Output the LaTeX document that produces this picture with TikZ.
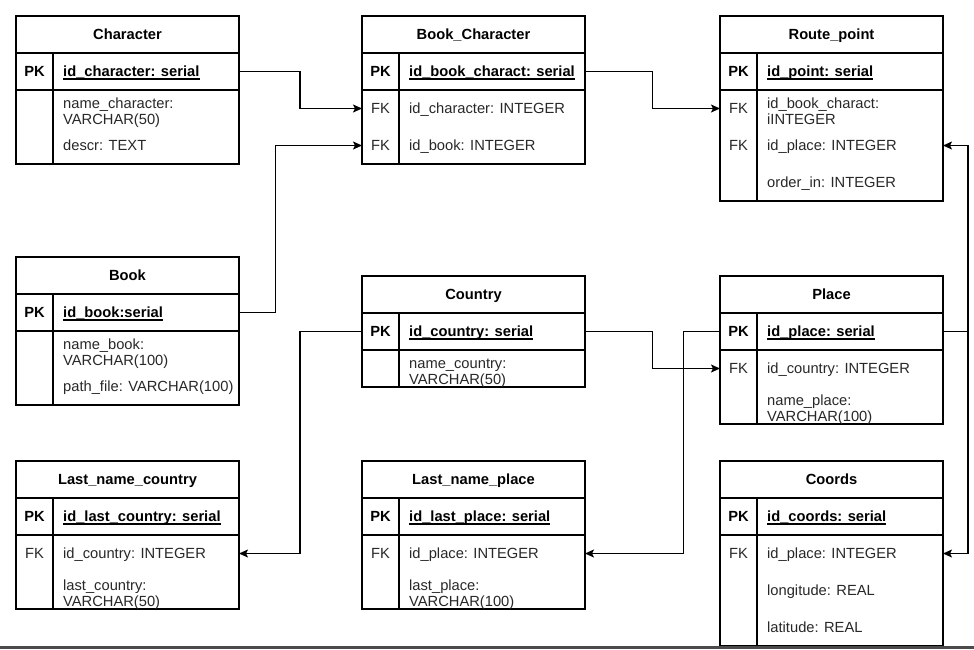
\documentclass[tikz,border=0pt]{standalone}
\usepackage{fontspec}
\setmainfont{Liberation Sans}
\usetikzlibrary{arrows.meta,calc}
\definecolor{txt}{RGB}{40,40,40}
\definecolor{barcol}{RGB}{75,75,75}
\tikzset{
  tablebox/.style={draw=black, line width=1.6pt, inner sep=0pt, outer sep=0pt, minimum width=223pt, fill=white},
  rule/.style={draw=black, line width=1.6pt},
  titletext/.style={inner sep=0pt, anchor=base, font=\fontsize{14.7}{16}\selectfont\bfseries, text=black},
  keytext/.style={inner sep=0pt, anchor=base, font=\fontsize{14.7}{16}\selectfont, text=txt},
  pkkey/.style={inner sep=0pt, anchor=base, font=\fontsize{14.7}{16}\selectfont\bfseries, text=black},
  fieldtext/.style={inner sep=0pt, anchor=base west, font=\fontsize{14.7}{16}\selectfont, text=txt},
  pktext/.style={inner sep=0pt, anchor=base west, font=\fontsize{14.7}{16}\selectfont\bfseries, text=black},
  uline/.style={draw=black, line width=1.1pt},
  conn/.style={draw=black, line width=1.5pt, -{Stealth[length=9pt,width=8pt,inset=2pt]}},
}
% #1 name, #2 left, #3 top, #4 height, #5 title
\newcommand\ertable[5]{%
  \node[tablebox, minimum height=#4pt, anchor=north west] (#1) at (#2,#3) {};
  \node[titletext] (#1-title) at ($(#1.north)+(0,23.5)$) {#5};
  \draw[rule] ($(#1.north west)+(0,37)$) -- ($(#1.north east)+(0,37)$);
  \draw[rule] ($(#1.north west)+(0,74)$) -- ($(#1.north east)+(0,74)$);
  \draw[rule] ($(#1.north west)+(37,37)$) -- ($(#1.south west)+(37,0)$);
}
% #1 table, #2 text
\newcommand\pkrow[2]{%
  \node[pkkey] (#1-pkk) at ($(#1.north west)+(18.5,60.5)$) {PK};
  \node[pktext] (#1-pk) at ($(#1.north west)+(47,60.5)$) {#2};
  \draw[uline] ($(#1-pk.base west)+(0,2.5)$) -- ($(#1-pk.base east)+(0,2.5)$);
}
% #1 table, #2 row name, #3 baseline offset, #4 key, #5 text
\newcommand\frow[5]{%
  \node[keytext] (#1-#2k) at ($(#1.north west)+(18.5,#3)$) {#4};
  \node[fieldtext] (#1-#2) at ($(#1.north west)+(47,#3)$) {#5};
}
% #1 table, #2 row name, #3 row centre offset, #4 key, #5 line 1, #6 line 2
\newcommand\frowtwo[6]{%
  \node[keytext] (#1-#2k) at ($(#1.north west)+(18.5,#3+5)$) {#4};
  \node[fieldtext] (#1-#2a) at ($(#1.north west)+(47,#3-0.5)$) {#5};
  \node[fieldtext] (#1-#2b) at ($(#1.north west)+(47,#3+16)$) {#6};
}
\begin{document}
\begin{tikzpicture}[x=1pt, y=-1pt]
\useasboundingbox (0,0) rectangle (974,649);
\fill[white] (0,0) rectangle (974,649);

% Character
\ertable{character}{16}{16}{148}{Character}
\pkrow{character}{id\_character: serial}
\frowtwo{character}{r1}{92.5}{}{name\_character:}{VARCHAR(50)}
\frow{character}{r2}{134.5}{}{descr: TEXT}

% Book_Character
\ertable{bookchar}{362}{16}{148}{Book\_Character}
\pkrow{bookchar}{id\_book\_charact: serial}
\frow{bookchar}{r1}{97.5}{FK}{id\_character: INTEGER}
\frow{bookchar}{r2}{134.5}{FK}{id\_book: INTEGER}

% Route_point
\ertable{route}{720}{16}{185}{Route\_point}
\pkrow{route}{id\_point: serial}
\frowtwo{route}{r1}{92.5}{FK}{id\_book\_charact:}{iINTEGER}
\frow{route}{r2}{134.5}{FK}{id\_place: INTEGER}
\frow{route}{r3}{171.5}{}{order\_in: INTEGER}

% Book
\ertable{book}{16}{257}{148}{Book}
\pkrow{book}{id\_book:serial}
\frowtwo{book}{r1}{92.5}{}{name\_book:}{VARCHAR(100)}
\frow{book}{r2}{134.5}{}{path\_file: VARCHAR(100)}

% Country
\ertable{country}{362}{276}{111}{Country}
\pkrow{country}{id\_country: serial}
\frowtwo{country}{r1}{92.5}{}{name\_country:}{VARCHAR(50)}

% Place
\ertable{place}{720}{276}{148}{Place}
\pkrow{place}{id\_place: serial}
\frow{place}{r1}{97.5}{FK}{id\_country: INTEGER}
\frowtwo{place}{r2}{129.5}{}{name\_place:}{VARCHAR(100)}

% Last_name_country
\ertable{lastcountry}{16}{461}{148}{Last\_name\_country}
\pkrow{lastcountry}{id\_last\_country: serial}
\frow{lastcountry}{r1}{97.5}{FK}{id\_country: INTEGER}
\frowtwo{lastcountry}{r2}{129.5}{}{last\_country:}{VARCHAR(50)}

% Last_name_place
\ertable{lastplace}{362}{461}{148}{Last\_name\_place}
\pkrow{lastplace}{id\_last\_place: serial}
\frow{lastplace}{r1}{97.5}{FK}{id\_place: INTEGER}
\frowtwo{lastplace}{r2}{129.5}{}{last\_place:}{VARCHAR(100)}

% Coords
\ertable{coords}{720}{461}{185}{Coords}
\pkrow{coords}{id\_coords: serial}
\frow{coords}{r1}{97.5}{FK}{id\_place: INTEGER}
\frow{coords}{r2}{134.5}{}{longitude: REAL}
\frow{coords}{r3}{171.5}{}{latitude: REAL}

% connectors
\draw[conn] ($(character.north east)+(0,55.5)$) -- ++(61,0) |- ($(bookchar.north west)+(0,92.5)$);
\draw[conn] ($(book.north east)+(0,55.5)$) -- ++(36.5,0) |- ($(bookchar.north west)+(0,129.5)$);
\draw[conn] ($(bookchar.north east)+(0,55.5)$) -- ++(67.5,0) |- ($(route.north west)+(0,92.5)$);
\draw[conn] ($(country.north west)+(0,55.5)$) -- ++(-62,0) |- ($(lastcountry.north east)+(0,92.5)$);
\draw[conn] ($(country.north east)+(0,55.5)$) -- ++(67.5,0) |- ($(place.north west)+(0,92.5)$);
\draw[conn] ($(place.north west)+(0,55.5)$) -- ++(-36.5,0) |- ($(lastplace.north east)+(0,92.5)$);
\draw[conn] ($(place.north east)+(0,55.5)$) -- ++(25,0) |- ($(route.north east)+(0,129.5)$);
\draw[conn] ($(place.north east)+(0,55.5)$) -- ++(25,0) |- ($(coords.north east)+(0,92.5)$);

% bottom edge bar
\fill[barcol] (0,646) rectangle (974,649);
\end{tikzpicture}
\end{document}
